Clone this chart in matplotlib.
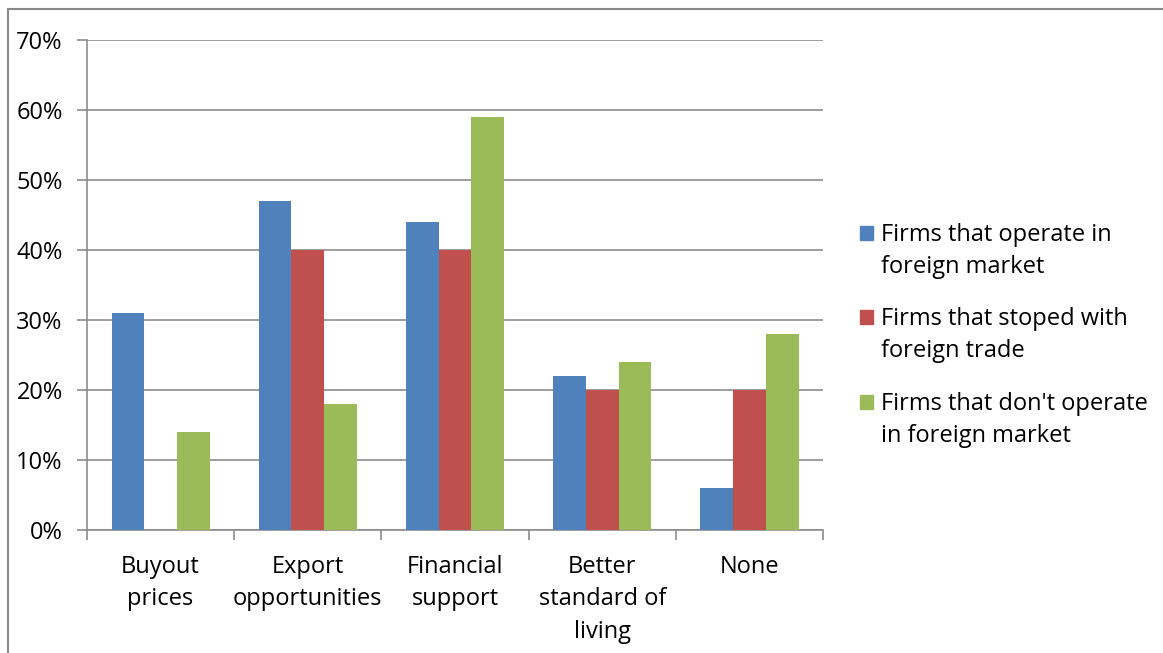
import matplotlib
matplotlib.use('Agg')
import matplotlib.pyplot as plt
from matplotlib.lines import Line2D
from matplotlib.patches import Rectangle
import numpy as np

plt.rcParams['font.family'] = ['Open Sans', 'DejaVu Sans']

categories = ['Buyout\nprices', 'Export\nopportunities', 'Financial\nsupport',
              'Better\nstandard of\nliving', 'None']
series = ['Firms that operate in\nforeign market',
          'Firms that stoped with\nforeign trade',
          "Firms that don't operate\nin foreign market"]
operate = [31, 47, 44, 22, 6]
stopped = [0, 40, 40, 20, 20]
dont_operate = [14, 18, 59, 24, 28]
colors = ['#4F81BD', '#C0504D', '#9BBB59']

grid_col = '#8C8C8C'
fs = 17

fig = plt.figure(figsize=(11.63, 6.53), dpi=100)
ax = fig.add_axes([0.0748, 0.1884, 0.6329, 0.7504])

x = np.arange(len(categories))
w = 1 / 4.5
for i, vals in enumerate([operate, stopped, dont_operate]):
    ax.bar(x + (i - 1) * w, vals, width=w, color=colors[i], zorder=3)

ax.set_xlim(-0.5, len(categories) - 0.5)
ax.set_ylim(0, 70)
ax.set_yticks(np.arange(0, 71, 10))
ax.set_yticklabels([f'{v}%' for v in range(0, 71, 10)], fontsize=fs)
ax.yaxis.grid(True, color=grid_col, linewidth=1.2, zorder=0)
ax.tick_params(axis='y', length=7, width=1.2, color=grid_col, pad=10.5)

# boundary ticks as major, labels at centres as minor
ax.set_xticks(np.arange(-0.5, len(categories), 1))
ax.set_xticklabels([])
ax.tick_params(axis='x', which='major', length=7, width=1.2, color=grid_col)
ax.set_xticks(x, minor=True)
ax.set_xticklabels(categories, minor=True, fontsize=fs, linespacing=1.46)
ax.tick_params(axis='x', which='minor', length=0, pad=18)

for s in ['top', 'right']:
    ax.spines[s].set_visible(False)
for s in ['left', 'bottom']:
    ax.spines[s].set_color(grid_col)
    ax.spines[s].set_linewidth(1.2)

# legend drawn by hand so the marker sits on the first line
leg_y = [233, 317, 402]
for i, lab in enumerate(series):
    y = 1 - leg_y[i] / 653
    fig.add_artist(Rectangle((860 / 1163, y - 7 / 653), 13 / 1163, 14 / 653,
                             transform=fig.transFigure, color=colors[i]))
    fig.text(881 / 1163, y + 10 / 653, lab, fontsize=fs, va='top', ha='left',
             linespacing=1.45)

# outer chart frame (cropped on the right and bottom)
fig.add_artist(Line2D([8 / 1163, 8 / 1163], [0, 1 - 9 / 653], color='#898989', lw=1.5))
fig.add_artist(Line2D([8 / 1163, 1], [1 - 9 / 653, 1 - 9 / 653], color='#898989', lw=1.5))

fig.savefig('out.png', dpi=100)
